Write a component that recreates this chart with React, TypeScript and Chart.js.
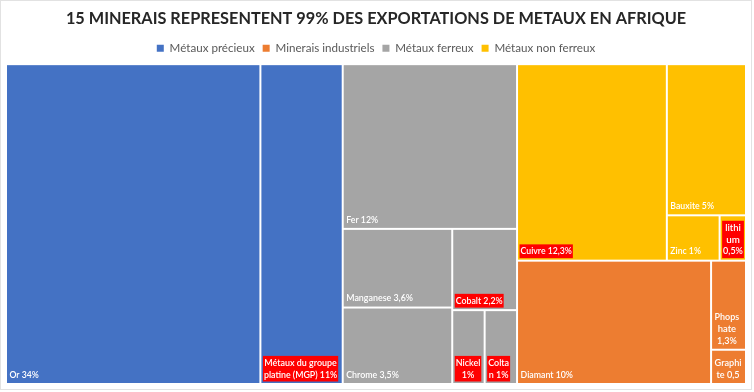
import React, { useEffect, useRef } from "react";
import { Chart, registerables } from "chart.js";

Chart.register(...registerables);

const TITLE = "15 MINERAIS REPRESENTENT 99% DES EXPORTATIONS DE METAUX EN AFRIQUE";

const groupNames = ["Métaux précieux", "Minerais industriels", "Métaux ferreux", "Métaux non ferreux"];
const groupColors = ["#4472C4", "#ED7D31", "#A5A5A5", "#FFC000"];

const mineralLabels = [
  "Or 34%",
  "Métaux du groupe platine (MGP) 11%",
  "Diamant 10%",
  "Phopshate 1,3%",
  "Graphite 0,5",
  "Fer 12%",
  "Manganese 3,6%",
  "Chrome 3,5%",
  "Cobalt 2,2%",
  "Nickel 1%",
  "Coltan 1%",
  "Cuivre 12,3%",
  "Bauxite 5%",
  "Zinc 1%",
  "lithium 0,5%",
];
const mineralValues = [34, 11, 10, 1.3, 0.5, 12, 3.6, 3.5, 2.2, 1, 1, 12.3, 5, 1, 0.5];
const mineralGroup = [0, 0, 1, 1, 1, 2, 2, 2, 2, 2, 2, 3, 3, 3, 3];
const mineralHighlighted = [false, true, false, false, false, false, false, false, true, true, true, true, false, false, true];

// Approximate Calibri advance widths (em) used to wrap labels like the original.
const CALIBRI_EM: Record<string, number> = {
  " ": 0.226, "%": 0.715, "(": 0.303, ")": 0.303, ",": 0.25,
  "0": 0.507, "1": 0.507, "2": 0.507, "3": 0.507, "4": 0.507, "5": 0.507, "6": 0.507, "7": 0.507, "8": 0.507, "9": 0.507,
  B: 0.544, C: 0.533, D: 0.615, F: 0.459, G: 0.631, M: 0.855, N: 0.646, O: 0.662, P: 0.517, Z: 0.488,
  a: 0.479, b: 0.525, c: 0.423, d: 0.525, e: 0.498, "é": 0.498, g: 0.471, h: 0.525, i: 0.229, k: 0.455,
  l: 0.229, m: 0.799, n: 0.525, o: 0.527, p: 0.525, r: 0.349, s: 0.391, t: 0.335, u: 0.525, v: 0.452, x: 0.433,
};
const LABEL_SIZE = 9.5;
const LABEL_DRAW_SIZE = 10;
const LABEL_PAD = 5.5;

function cw(s: string): number {
  let w = 0;
  for (const ch of s) w += CALIBRI_EM[ch] ?? 0.5;
  return w * LABEL_SIZE;
}

type Rect = { x: number; y: number; w: number; h: number };

function worst(areas: number[], side: number): number {
  const s = areas.reduce((a, b) => a + b, 0);
  const max = Math.max(...areas);
  const min = Math.min(...areas);
  return Math.max((side * side * max) / (s * s), (s * s) / (side * side * min));
}

function squarify(values: number[], rect: Rect): Rect[] {
  const total = values.reduce((a, b) => a + b, 0);
  const k = (rect.w * rect.h) / total;
  const areas = values.map((v) => v * k);
  const out: Rect[] = new Array(values.length);
  let r = { ...rect };
  let i = 0;
  while (i < areas.length) {
    const short = Math.min(r.w, r.h);
    const rest = areas.slice(i);
    let row: number[];
    if (rest.length > 1 && rest.every((a) => Math.abs(a - rest[0]) < 1e-9)) {
      row = rest.slice();
    } else {
      row = [rest[0]];
      let j = 1;
      while (j < rest.length) {
        const cand = [...row, rest[j]];
        if (worst(cand, short) <= worst(row, short)) {
          row = cand;
          j++;
        } else break;
      }
    }
    const rowArea = row.reduce((a, b) => a + b, 0);
    if (r.w >= r.h) {
      const t = rowArea / r.h;
      let yy = r.y;
      row.forEach((a, n) => {
        const hh = a / t;
        out[i + n] = { x: r.x, y: yy, w: t, h: hh };
        yy += hh;
      });
      r = { x: r.x + t, y: r.y, w: r.w - t, h: r.h };
    } else {
      const t = rowArea / r.w;
      let xx = r.x;
      row.forEach((a, n) => {
        const ww = a / t;
        out[i + n] = { x: xx, y: r.y, w: ww, h: t };
        xx += ww;
      });
      r = { x: r.x, y: r.y + t, w: r.w, h: r.h - t };
    }
    i += row.length;
  }
  return out;
}

function wrapText(text: string, maxW: number): string[] {
  const words = text.split(" ");
  const lines: string[] = [];
  let cur = "";
  const breakWord = (word: string) => {
    let piece = "";
    for (const ch of word) {
      if (cw(piece + ch) > maxW && piece) {
        lines.push(piece);
        piece = ch;
      } else piece += ch;
    }
    return piece;
  };
  for (const w of words) {
    const test = cur ? cur + " " + w : w;
    if (cw(test) <= maxW) {
      cur = test;
    } else {
      if (cur) lines.push(cur);
      if (cw(w) > maxW) {
        cur = breakWord(w);
      } else cur = w;
    }
  }
  if (cur) lines.push(cur);
  return lines;
}

const treemapPlugin = {
  id: "treemapCells",
  beforeDatasetsDraw(chart: any) {
    const { ctx, chartArea } = chart;
    const xs = chart.scales.x;
    const ys = chart.scales.y;
    const W = chartArea.right - chartArea.left;
    const H = chartArea.bottom - chartArea.top;
    const groups = groupNames.map((_, gi) => {
      const items = mineralValues
        .map((v, i) => i)
        .filter((i) => mineralGroup[i] === gi)
        .sort((a, b) => mineralValues[b] - mineralValues[a]);
      const total = items.reduce((s, i) => s + mineralValues[i], 0);
      return { gi, items, total };
    });
    groups.sort((a, b) => b.total - a.total);
    const gRects = squarify(groups.map((g) => g.total), { x: 0, y: 0, w: W, h: H });
    ctx.save();
    groups.forEach((g, gIdx) => {
      const leafRects = squarify(g.items.map((i) => mineralValues[i]), gRects[gIdx]);
      g.items.forEach((mi, n) => {
        const r = leafRects[n];
        const left = xs.getPixelForValue((r.x / W) * 100);
        const right = xs.getPixelForValue(((r.x + r.w) / W) * 100);
        const top = ys.getPixelForValue((r.y / H) * 100);
        const bottom = ys.getPixelForValue(((r.y + r.h) / H) * 100);
        const l = left + 1, t = top + 1, rr = right - 1, b = bottom - 1;
        ctx.fillStyle = groupColors[g.gi];
        ctx.fillRect(l, t, rr - l, b - t);
        // label
        ctx.font = `600 ${LABEL_DRAW_SIZE}px Lato`;
        const maxW = rr - l - LABEL_PAD;
        const lines = wrapText(mineralLabels[mi], maxW);
        const drawW = lines.map((s) => Math.min(ctx.measureText(s).width, cw(s) + 1));
        const lh = 11.8;
        const blockW = Math.max(...drawW);
        const blockH = lines.length * lh;
        const bx = l + 2;
        const by = b - 3 - blockH;
        if (mineralHighlighted[mi]) {
          ctx.fillStyle = "#FF0000";
          ctx.fillRect(bx - 0.5, by - 0.5, blockW + 2, blockH + 2);
        }
        ctx.fillStyle = "#FFFFFF";
        ctx.textBaseline = "middle";
        ctx.textAlign = "center";
        lines.forEach((s, k) => {
          ctx.fillText(s, bx + 0.5 + blockW / 2, by + lh * k + lh / 2 + 0.5, drawW[k]);
        });
      });
    });
    ctx.restore();
  },
};

export default function App() {
  const ref = useRef<HTMLCanvasElement | null>(null);
  useEffect(() => {
    if (!ref.current) return;
    const chart = new Chart(ref.current, {
      type: "scatter",
      data: {
        datasets: groupNames.map((name, i) => ({
          label: name,
          data: [],
          backgroundColor: groupColors[i],
          borderColor: groupColors[i],
          borderWidth: 0,
        })),
      },
      options: {
        animation: false,
        responsive: false,
        maintainAspectRatio: false,
        devicePixelRatio: 1,
        layout: { padding: { left: 6, right: 8, bottom: 8, top: 0 } },
        scales: {
          x: { type: "linear", min: 0, max: 100, display: false },
          y: { type: "linear", min: 0, max: 100, reverse: true, display: false },
        },
        plugins: {
          title: {
            display: true,
            text: TITLE,
            color: "#262626",
            font: { family: "Lato", size: 16.3, weight: "bold" },
            padding: { top: 9, bottom: 6 },
          },
          legend: {
            display: true,
            position: "top",
            onClick: () => {},
            labels: {
              boxWidth: 7,
              boxHeight: 7,
              color: "#595959",
              font: { family: "Lato", size: 11.6 },
              padding: 8,
            },
          },
          tooltip: { enabled: false },
        },
      },
      plugins: [treemapPlugin],
    } as any);
    return () => chart.destroy();
  }, []);
  return (
    <div style={{ position: "fixed", left: 0, top: 0, width: 754, height: 392, background: "#fff" }}>
      <div
        style={{
          position: "absolute",
          left: 0,
          top: 0,
          width: 750,
          height: 388,
          border: "1px solid #e2e2e2",
        }}
      />
      <canvas ref={ref} width={754} height={392} style={{ position: "absolute", left: 0, top: 0, width: 754, height: 392 }} />
    </div>
  );
}
